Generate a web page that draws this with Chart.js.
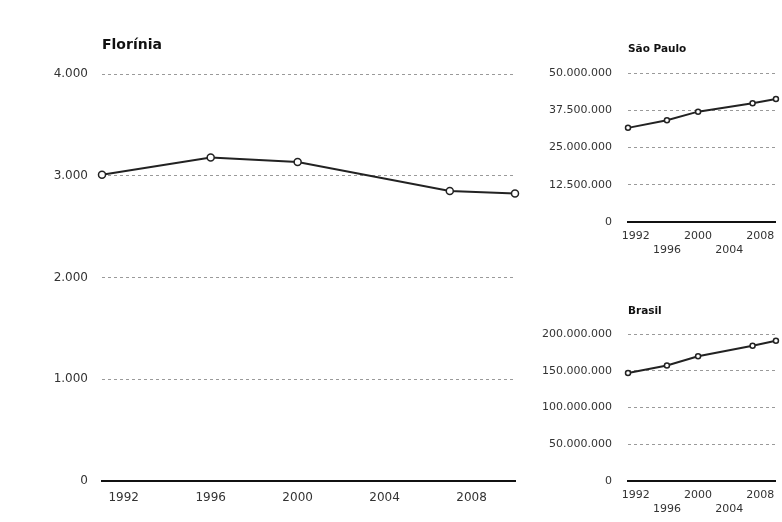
<!DOCTYPE html>
<html>
<head>
<meta charset="utf-8">
<script src="https://cdn.jsdelivr.net/npm/chart.js@4/dist/chart.umd.min.js"></script>
<style>
  body { margin: 0; background: #fff; }
  #page { position: relative; width: 782px; height: 522px; }
  .box { position: absolute; }
</style>
</head>
<body>
<div id="page">
  <div class="box" style="left:0;top:0;width:540px;height:522px"><canvas id="mainChart" width="540" height="522"></canvas></div>
  <div class="box" style="left:540px;top:0;width:242px;height:270px"><canvas id="spChart" width="242" height="270"></canvas></div>
  <div class="box" style="left:540px;top:270px;width:242px;height:252px"><canvas id="brChart" width="242" height="252"></canvas></div>
</div>
<script>
// census / population count years
const years = [1991, 1996, 2000, 2007, 2010];
const yearTicks = [1992, 1996, 2000, 2004, 2008];

const floriniaPop = [3010, 3180, 3135, 2850, 2825];
const saoPauloPop = [31588925, 34120886, 37032403, 39827570, 41262199];
const brasilPop = [146825475, 157070163, 169799170, 183987291, 190755799];

const floriniaTicks = [0, 1000, 2000, 3000, 4000];
const saoPauloTicks = [0, 12500000, 25000000, 37500000, 50000000];
const brasilTicks = [0, 50000000, 100000000, 150000000, 200000000];

const FONT = "'DejaVu Sans', Verdana, sans-serif";

function formatNum(v) {
  return String(v).replace(/\B(?=(\d{3})+(?!\d))/g, '.');
}

function makeChart(id, opts) {
  const config = {
    type: 'line',
    data: {
      datasets: [{
        data: years.map((y, i) => ({ x: y, y: opts.values[i] })),
        borderColor: '#222',
        borderWidth: 2,
        pointRadius: opts.pointRadius,
        pointBorderWidth: 1.5,
        pointBackgroundColor: '#fff',
        pointBorderColor: '#222',
        tension: 0,
        clip: false
      }]
    },
    options: {
      responsive: false,
      animation: false,
      layout: { padding: { left: 0, right: opts.padRight, top: 0, bottom: 0 } },
      plugins: {
        legend: { display: false },
        tooltip: { enabled: false },
        title: {
          display: true,
          text: opts.title,
          align: 'start',
          fullSize: false,
          color: '#111',
          font: { family: FONT, size: opts.titleSize, weight: 'bold' },
          padding: { top: opts.titleTop, bottom: opts.titleBottom }
        }
      },
      scales: {
        x: {
          type: 'linear',
          min: 1991,
          max: 2010,
          afterBuildTicks: (s) => { s.ticks = yearTicks.map(v => ({ value: v })); },
          afterFit: (s) => { s.height = opts.xHeight; },
          grid: { display: false, drawTicks: false },
          border: { display: true, color: '#111', width: 2 },
          ticks: {
            autoSkip: false,
            maxRotation: 0,
            padding: opts.xPad,
            color: '#333',
            font: { family: FONT, size: opts.tickSize, lineHeight: 1.3 },
            callback: (v, i) => opts.stagger && i % 2 ? ['', String(v)] : String(v)
          }
        },
        y: {
          min: 0,
          max: opts.yTicks[opts.yTicks.length - 1],
          afterBuildTicks: (s) => { s.ticks = opts.yTicks.map(v => ({ value: v })); },
          afterFit: (s) => { s.width = opts.yWidth; },
          grid: { color: '#9a9a9a', lineWidth: 1, borderDash: [3, 3], drawTicks: false },
          border: { display: false, dash: [3, 3] },
          ticks: {
            padding: opts.yPad,
            color: '#333',
            font: { family: FONT, size: opts.tickSize },
            callback: (v) => formatNum(v)
          }
        }
      }
    }
  };
  return new Chart(document.getElementById(id), config);
}

makeChart('mainChart', {
  title: 'Florínia', values: floriniaPop, yTicks: floriniaTicks,
  titleSize: 14, titleTop: 36.6, titleBottom: 20.6,
  tickSize: 12, xPad: 9, yPad: 14, yWidth: 102, xHeight: 41, padRight: 25,
  pointRadius: 3.5, stagger: false
});

makeChart('spChart', {
  title: 'São Paulo', values: saoPauloPop, yTicks: saoPauloTicks,
  titleSize: 10.5, titleTop: 42.7, titleBottom: 17.7,
  tickSize: 11, xPad: 7, yPad: 16, yWidth: 88, xHeight: 48, padRight: 4,
  pointRadius: 2.5, stagger: true
});

makeChart('brChart', {
  title: 'Brasil', values: brasilPop, yTicks: brasilTicks,
  titleSize: 10.5, titleTop: 34.7, titleBottom: 16.7,
  tickSize: 11, xPad: 7, yPad: 16, yWidth: 88, xHeight: 41, padRight: 4,
  pointRadius: 2.5, stagger: true
});
</script>
</body>
</html>
